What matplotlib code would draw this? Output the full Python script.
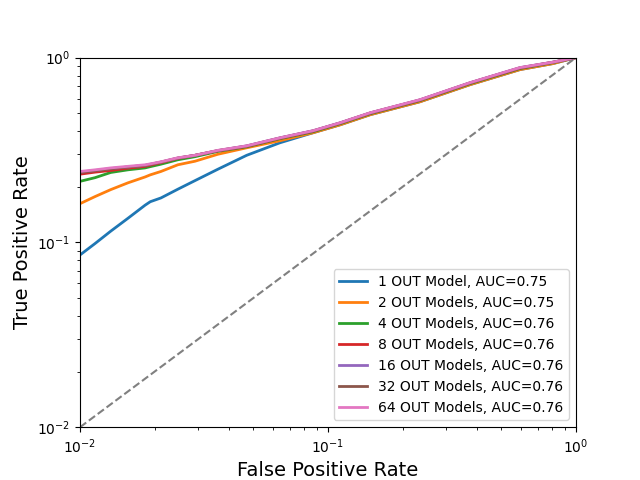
import numpy as np
import matplotlib
matplotlib.use('Agg')
import matplotlib.pyplot as plt

# false positive rate grid (shared by all curves)
fpr = [0.010, 0.0115, 0.0133, 0.0156, 0.0183, 0.0192, 0.0212, 0.0248, 0.0291, 0.036,
       0.047, 0.064, 0.087, 0.112, 0.148, 0.235, 0.374, 0.594, 0.807, 1.0]

tpr_1 = [0.0855, 0.0986, 0.115, 0.135, 0.159, 0.166, 0.174, 0.194, 0.216, 0.249,
         0.296, 0.346, 0.392, 0.433, 0.491, 0.577, 0.714, 0.861, 0.928, 1.0]
tpr_2 = [0.162, 0.177, 0.193, 0.210, 0.226, 0.232, 0.242, 0.263, 0.275, 0.300,
         0.325, 0.355, 0.392, 0.433, 0.491, 0.577, 0.714, 0.861, 0.928, 1.0]
tpr_4 = [0.214, 0.224, 0.239, 0.247, 0.253, 0.257, 0.265, 0.280, 0.291, 0.311,
         0.329, 0.364, 0.397, 0.439, 0.497, 0.585, 0.723, 0.872, 0.939, 1.0]
tpr_8 = [0.234, 0.240, 0.245, 0.252, 0.258, 0.262, 0.270, 0.285, 0.296, 0.313,
         0.331, 0.366, 0.400, 0.442, 0.500, 0.588, 0.728, 0.877, 0.943, 1.0]
tpr_16 = [0.240, 0.245, 0.251, 0.256, 0.261, 0.265, 0.272, 0.286, 0.296, 0.314,
          0.333, 0.368, 0.402, 0.444, 0.502, 0.591, 0.731, 0.882, 0.945, 1.0]
tpr_32 = [0.239, 0.244, 0.250, 0.256, 0.261, 0.264, 0.272, 0.286, 0.296, 0.314,
          0.332, 0.367, 0.401, 0.443, 0.502, 0.590, 0.730, 0.880, 0.944, 1.0]
tpr_64 = [0.242, 0.247, 0.253, 0.258, 0.263, 0.266, 0.273, 0.287, 0.296, 0.315,
          0.333, 0.368, 0.402, 0.444, 0.503, 0.592, 0.732, 0.883, 0.945, 1.0]

labels = ['1 OUT Model, AUC=0.75', '2 OUT Models, AUC=0.75', '4 OUT Models, AUC=0.76',
          '8 OUT Models, AUC=0.76', '16 OUT Models, AUC=0.76', '32 OUT Models, AUC=0.76',
          '64 OUT Models, AUC=0.76']
curves = [tpr_1, tpr_2, tpr_4, tpr_8, tpr_16, tpr_32, tpr_64]

fig = plt.figure(figsize=(6.4, 4.8), dpi=100)
for tpr, lab in zip(curves, labels):
    plt.plot(fpr, tpr, lw=2, label=lab)
plt.plot([0.01, 1], [0.01, 1], ls='--', color='gray')
plt.xscale('log')
plt.yscale('log')
plt.xlim(1e-2, 1)
plt.ylim(1e-2, 1)
plt.xlabel('False Positive Rate', fontsize=14)
plt.ylabel('True Positive Rate', fontsize=14)
plt.legend(loc='lower right')
plt.savefig('out.png')
plt.close()
